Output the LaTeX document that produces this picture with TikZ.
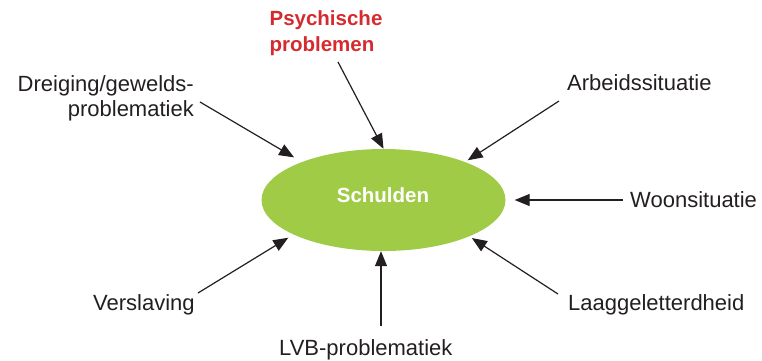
\documentclass[tikz,border=0pt]{standalone}
\usepackage{fontspec}
\setmainfont{Liberation Sans}
\usetikzlibrary{arrows.meta}
\definecolor{ink}{HTML}{231F20}
\definecolor{hub}{HTML}{9FCB47}
\definecolor{accent}{HTML}{D52B2E}
\tikzset{
  lbl/.style={inner sep=0pt, text=ink, font=\fontsize{22}{25}\selectfont},
  hotlbl/.style={inner sep=0pt, text=accent, font=\fontsize{20.5}{25.5}\selectfont\bfseries},
  hubshape/.style={ellipse, fill=hub, draw=none, minimum width=244pt, minimum height=102pt, inner sep=0pt},
  hubtext/.style={inner sep=0pt, text=white, font=\fontsize{20.5}{24}\selectfont\bfseries},
  feed/.style={draw=ink, line width=1.2pt, -{Triangle[length=15pt, width=12pt]}}
}
\usetikzlibrary{shapes.geometric}
\begin{document}
\begin{tikzpicture}[x=1pt, y=-1pt]
  \useasboundingbox (0,0) rectangle (762,360);

  % central issue
  \node[hubshape] (sch) at (383.5,200) {};
  \node[hubtext, anchor=base] (schtxt) at (383,202) {Schulden};

  % surrounding factors
  \node[hotlbl, align=left, anchor=center] (psy) at (326,33) {Psychische\\problemen};
  \node[lbl, align=right, anchor=east] (dre) at (194,98) {Dreiging/gewelds-\\problematiek};
  \node[lbl, anchor=base west] (arb) at (567,90) {Arbeidssituatie};
  \node[lbl, anchor=base west] (woon) at (630,207) {Woonsituatie};
  \node[lbl, anchor=base west] (vers) at (93,310) {Verslaving};
  \node[lbl, anchor=base west] (lvb) at (279,355) {LVB-problematiek};
  \node[lbl, anchor=base west] (laag) at (568,310) {Laaggeletterdheid};

  % tails of the arrows, just beside each label
  \coordinate (psyS) at (338,62);
  \coordinate (dreS) at (200,102);
  \coordinate (arbS) at (559,101);
  \coordinate (woonS) at (623,200);
  \coordinate (versS) at (198,293);
  \coordinate (lvbS) at (381,326);
  \coordinate (laagS) at (558,294);

  % arrows into the central issue
  \draw[feed] (psyS) -- (sch.north);
  \draw[feed, shorten >=9pt] (dreS) -- (sch.155.7);
  \draw[feed, shorten >=3pt] (arbS) -- (sch.25.5);
  \draw[feed, shorten >=9pt] (woonS) -- (sch.east);
  \draw[feed, shorten >=6pt] (versS) -- (sch.201.3);
  \draw[feed] (lvbS) -- (lvbS |- sch.south);
  \draw[feed, shorten >=3pt] (laagS) -- (sch.-23.6);
\end{tikzpicture}
\end{document}
